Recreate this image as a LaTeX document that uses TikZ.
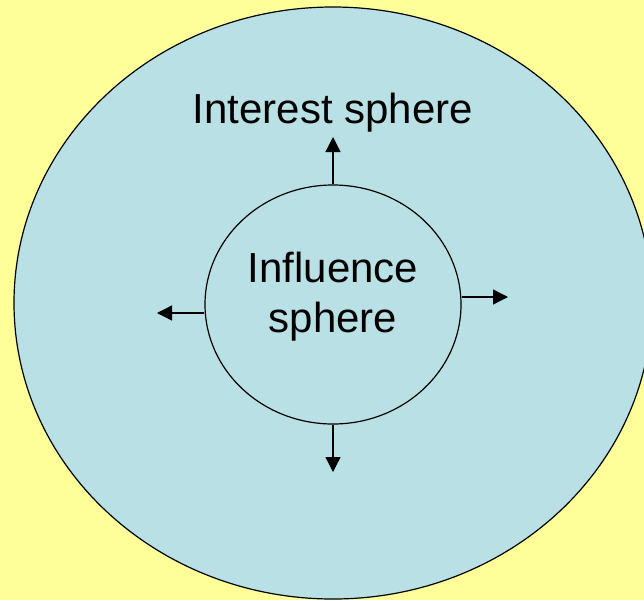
\documentclass[tikz,border=0pt]{standalone}
\usepackage{fontspec}
\setmainfont{Liberation Sans}
\usetikzlibrary{shapes.geometric,arrows.meta}
\definecolor{bgyellow}{RGB}{255,255,153}
\definecolor{sphereblue}{RGB}{185,224,228}
\begin{document}
\begin{tikzpicture}[x=1pt,y=1pt,
  sphere/.style={draw,ellipse,fill=sphereblue,line width=1.2pt,inner sep=0pt},
  txt/.style={font=\fontsize{42}{50}\selectfont,align=center,inner sep=0pt},
  spreadarrow/.style={-{Triangle[length=15pt,width=15pt]},line width=1.3pt}]
\fill[bgyellow] (0,0) rectangle (644,-600);
\useasboundingbox (0,0) rectangle (644,-600);
\node[sphere,minimum width=638pt,minimum height=592pt] (interest) at (333,-303) {};
\node[sphere,minimum width=256pt,minimum height=239pt] (influence) at (333,-304.5) {};
\node[txt,anchor=base] (interestlbl) at (333,-123) {Interest sphere};
\node[txt] (influencelbl) at (333,-297) {Influence\\sphere};
\coordinate (n) at (333,-137);
\coordinate (e) at (508,-297);
\coordinate (s) at (333,-472);
\coordinate (w) at (157,-313);
\draw[spreadarrow] (influence.north) -- (n);
\draw[spreadarrow] (influence.east |- e) -- (e);
\draw[spreadarrow] (influence.south) -- (s);
\draw[spreadarrow] (influence.west |- w) -- (w);
\end{tikzpicture}
\end{document}
